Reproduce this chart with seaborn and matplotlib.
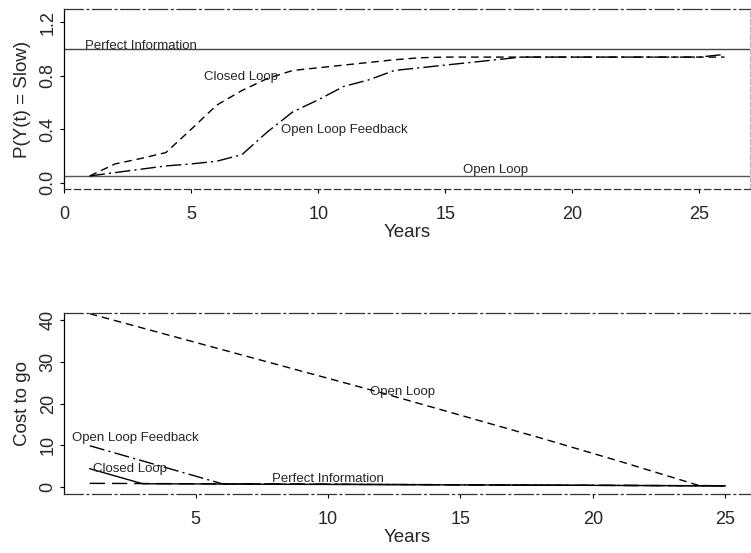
import pandas as pd
import seaborn as sns
import matplotlib.pyplot as plt

# Data
# Top panel: P(Y(t) = Slow) by year
yearsTop = list(range(1, 27))
closedTop = [0.05, 0.14, 0.18, 0.225, 0.40, 0.58, 0.69, 0.78, 0.84, 0.86, 0.88, 0.90, 0.92,
             0.935, 0.94, 0.94, 0.94, 0.94, 0.94, 0.94, 0.94, 0.94, 0.94, 0.94, 0.94, 0.94]
olfTop = [0.05, 0.075, 0.10, 0.125, 0.14, 0.16, 0.21, 0.38, 0.53, 0.62, 0.72, 0.77, 0.84,
          0.86, 0.88, 0.90, 0.92, 0.94, 0.94, 0.94, 0.94, 0.94, 0.94, 0.94, 0.94, 0.96]
perfectTop = 1.0
openTop = 0.05

# Bottom panel: cost to go
openBotYears = [1, 6, 12, 18, 21, 24, 25]
openBot = [41.5, 32.9, 22.6, 11.8, 6.2, 0.4, 0.3]
olfBotYears = [1, 6, 25]
olfBot = [9.9, 0.8, 0.3]
closedBotYears = [1, 3, 25]
closedBot = [4.4, 0.8, 0.3]
perfectBotYears = [1, 25]
perfectBot = [0.9, 0.3]

# Styles
sns.set_style('white')
plt.rcParams['font.family'] = ['Liberation Sans', 'DejaVu Sans']
tickFs = 13
labFs = 13.5
txtFs = 9.5
lnW = 1.0
cDash = (0, (5.5, 3.5))
cDotDash = (0, (11, 3, 1.5, 3))
cLongDash = (0, (11, 5))
boxDotDash = (0, (15, 3, 1.5, 3))


def styleBox(ax, bottomLs):
    ax.spines['left'].set_linewidth(0.9)
    ax.spines['left'].set_color('black')
    ax.spines['top'].set_linewidth(0.9)
    ax.spines['top'].set_color('#333333')
    ax.spines['top'].set_linestyle(boxDotDash)
    ax.spines['bottom'].set_linewidth(0.9)
    ax.spines['bottom'].set_color('#333333')
    ax.spines['bottom'].set_linestyle(bottomLs)
    ax.spines['right'].set_linewidth(0.9)
    ax.spines['right'].set_color('#bbbbbb')
    ax.spines['right'].set_linestyle((0, (4, 2)))
    ax.tick_params(axis='both', direction='out', length=3, width=0.8, labelsize=tickFs,
                   bottom=True, left=True, color='black')
    ax.tick_params(axis='x', pad=9)
    ax.tick_params(axis='y', pad=2.5)
    for lab in ax.get_yticklabels():
        lab.set_rotation(90)
        lab.set_va('center')


fig = plt.figure(figsize=(7.51, 5.53), dpi=100)

### Top panel ###
ax1 = fig.add_axes([0.0856, 0.6577, 0.913, 0.326])
dfTop = pd.DataFrame({'year': yearsTop, 'closed': closedTop, 'olf': olfTop})
ax1.axhline(perfectTop, color='#444444', lw=lnW)
ax1.axhline(openTop, color='#555555', lw=lnW)
sns.lineplot(data=dfTop, x='year', y='closed', ax=ax1, color='black', lw=lnW, linestyle=cDash)
sns.lineplot(data=dfTop, x='year', y='olf', ax=ax1, color='black', lw=lnW, linestyle=cDotDash)
ax1.set_xlim(0, 27)
ax1.set_ylim(-0.05, 1.30)
ax1.set_xticks([0, 5, 10, 15, 20, 25])
ax1.set_yticks([0.0, 0.4, 0.8, 1.2])
ax1.set_yticklabels(['0.0', '0.4', '0.8', '1.2'])
ax1.set_xlabel('Years', fontsize=labFs, labelpad=1)
ax1.set_ylabel('P(Y(t) = Slow)', fontsize=labFs, labelpad=6)
ax1.text(3.0, 1.025, 'Perfect Information', fontsize=txtFs, ha='center', va='center')
ax1.text(6.97, 0.79, 'Closed Loop', fontsize=txtFs, ha='center', va='center')
ax1.text(11.02, 0.395, 'Open Loop Feedback', fontsize=txtFs, ha='center', va='center')
ax1.text(17.0, 0.095, 'Open Loop', fontsize=txtFs, ha='center', va='center')
styleBox(ax1, (0, (5, 3)))

### Bottom panel ###
ax2 = fig.add_axes([0.0856, 0.1067, 0.914, 0.3268])
sns.lineplot(x=openBotYears, y=openBot, ax=ax2, color='black', lw=lnW, linestyle=cDash)
sns.lineplot(x=olfBotYears, y=olfBot, ax=ax2, color='black', lw=lnW, linestyle=cDotDash)
sns.lineplot(x=closedBotYears, y=closedBot, ax=ax2, color='black', lw=lnW)
sns.lineplot(x=perfectBotYears, y=perfectBot, ax=ax2, color='black', lw=lnW, linestyle=cLongDash)
ax2.set_xlim(0.04, 25.96)
ax2.set_ylim(-1.65, 41.6)
ax2.set_xticks([5, 10, 15, 20, 25])
ax2.set_yticks([0, 10, 20, 30, 40])
ax2.set_xlabel('Years', fontsize=labFs, labelpad=1)
ax2.set_ylabel('Cost to go', fontsize=labFs, labelpad=6)
ax2.text(12.82, 22.7, 'Open Loop', fontsize=txtFs, ha='center', va='center')
ax2.text(2.71, 11.7, 'Open Loop Feedback', fontsize=txtFs, ha='center', va='center')
ax2.text(2.51, 4.3, 'Closed Loop', fontsize=txtFs, ha='center', va='center')
ax2.text(10.0, 1.9, 'Perfect Information', fontsize=txtFs, ha='center', va='center')
styleBox(ax2, boxDotDash)

fig.savefig('out.png', dpi=100)
